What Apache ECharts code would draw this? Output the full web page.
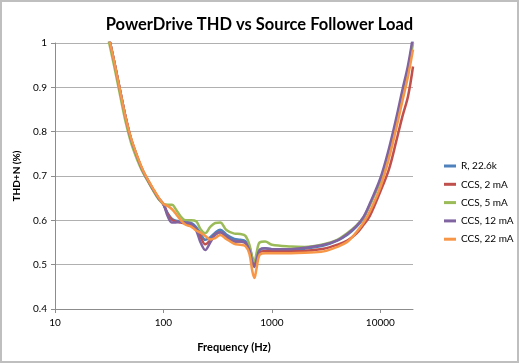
<!DOCTYPE html>
<html>
<head>
<meta charset="utf-8">
<script src="https://cdn.jsdelivr.net/npm/echarts@6/dist/echarts.min.js"></script>
<style>
html,body{margin:0;padding:0;background:#fff;}
#c{width:519px;height:363px;}
</style>
</head>
<body>
<div id="c"></div>
<script>
var title = 'PowerDrive THD vs Source Follower Load';
var xName = 'Frequency (Hz)';
var yName = 'THD+N (%)';
var xTicks = [10, 100, 1000, 10000];
var seriesNames = ['R, 22.6k', 'CCS, 2 mA', 'CCS, 5 mA', 'CCS, 12 mA', 'CCS, 22 mA'];
var freq = [20, 25, 30, 35, 40, 45, 50, 55, 60, 65, 70, 80, 90, 100, 110, 120, 130, 145, 160, 180, 200, 220, 243, 270, 300, 334, 380, 450, 511, 570, 620, 660, 690, 720, 770, 866, 1000, 1500, 2000, 3000, 4000, 5000, 6000, 7000, 8000, 10000, 12000, 14000, 16000, 18000, 20000];
var r22k = [1.25, 1.13, 1.035, 0.96, 0.89, 0.83, 0.785, 0.755, 0.73, 0.71, 0.695, 0.67, 0.65, 0.636, 0.615, 0.603, 0.599, 0.597, 0.596, 0.594, 0.585, 0.57, 0.556, 0.562, 0.572, 0.579, 0.568, 0.558, 0.556, 0.553, 0.54, 0.515, 0.503, 0.515, 0.533, 0.537, 0.535, 0.534, 0.536, 0.543, 0.554, 0.568, 0.585, 0.605, 0.635, 0.69, 0.755, 0.823, 0.887, 0.94, 1.01];
var ccs2 = [1.25, 1.13, 1.035, 0.96, 0.89, 0.83, 0.785, 0.755, 0.73, 0.71, 0.695, 0.67, 0.65, 0.636, 0.613, 0.601, 0.597, 0.595, 0.593, 0.59, 0.58, 0.562, 0.546, 0.555, 0.568, 0.573, 0.563, 0.553, 0.552, 0.549, 0.535, 0.512, 0.503, 0.513, 0.528, 0.531, 0.53, 0.53, 0.531, 0.536, 0.545, 0.555, 0.57, 0.59, 0.61, 0.665, 0.715, 0.778, 0.835, 0.88, 0.947];
var ccs5 = [1.24, 1.12, 1.025, 0.95, 0.88, 0.82, 0.777, 0.748, 0.725, 0.707, 0.693, 0.668, 0.648, 0.637, 0.635, 0.635, 0.625, 0.608, 0.6, 0.6, 0.598, 0.58, 0.571, 0.585, 0.594, 0.595, 0.578, 0.57, 0.569, 0.565, 0.545, 0.515, 0.507, 0.525, 0.55, 0.552, 0.545, 0.541, 0.54, 0.546, 0.556, 0.572, 0.588, 0.607, 0.635, 0.69, 0.753, 0.82, 0.883, 0.935, 1.0];
var ccs12 = [1.25, 1.13, 1.035, 0.96, 0.89, 0.83, 0.785, 0.755, 0.73, 0.71, 0.695, 0.67, 0.65, 0.636, 0.608, 0.595, 0.595, 0.597, 0.595, 0.592, 0.578, 0.55, 0.533, 0.55, 0.567, 0.573, 0.563, 0.553, 0.552, 0.549, 0.533, 0.505, 0.495, 0.51, 0.533, 0.537, 0.535, 0.535, 0.538, 0.545, 0.555, 0.57, 0.587, 0.608, 0.638, 0.695, 0.762, 0.83, 0.895, 0.95, 1.015];
var ccs22 = [1.25, 1.13, 1.035, 0.96, 0.89, 0.83, 0.787, 0.757, 0.732, 0.712, 0.697, 0.672, 0.652, 0.637, 0.632, 0.625, 0.615, 0.6, 0.59, 0.586, 0.577, 0.572, 0.565, 0.557, 0.56, 0.567, 0.558, 0.547, 0.545, 0.542, 0.525, 0.485, 0.47, 0.49, 0.522, 0.526, 0.526, 0.526, 0.527, 0.53, 0.54, 0.552, 0.573, 0.595, 0.62, 0.675, 0.74, 0.807, 0.87, 0.925, 0.985];
var seriesValues = [r22k, ccs2, ccs5, ccs12, ccs22];
var colors = ['#4F81BD', '#C0504D', '#9BBB59', '#8064A2', '#F79646'];

var FONT = 'Lato, "Liberation Sans", sans-serif';
var chart = echarts.init(document.getElementById('c'), null, {renderer: 'canvas'});
var series = seriesNames.map(function (name, i) {
  return {
    name: name,
    type: 'line',
    smooth: 0.35,
    symbol: 'none',
    showSymbol: false,
    clip: true,
    lineStyle: {width: 2.5, color: colors[i]},
    itemStyle: {color: colors[i]},
    data: freq.map(function (f, j) { return [f, seriesValues[i][j]]; })
  };
});
chart.setOption({
  animation: false,
  backgroundColor: '#fff',
  title: {
    text: title, left: 'center', top: 11,
    textStyle: {fontFamily: FONT, fontSize: 16.5, fontWeight: 'bold', color: '#000'}
  },
  graphic: [{
    type: 'rect', silent: true,
    shape: {x: 1, y: 1, width: 517, height: 361},
    style: {fill: 'none', stroke: '#bfbfbf', lineWidth: 2}
  }],
  legend: {
    orient: 'vertical', left: 439, top: 155,
    itemWidth: 12, itemHeight: 3, itemGap: 6.3, icon: 'rect',
    textStyle: {fontFamily: FONT, fontSize: 10, color: '#000', lineHeight: 12},
    data: seriesNames
  },
  grid: {left: 55, top: 43, right: 106, bottom: 54, containLabel: false},
  xAxis: {
    type: 'log', logBase: 10, min: 10, max: 20000,
    name: xName, nameLocation: 'middle', nameGap: 33,
    nameTextStyle: {fontFamily: FONT, fontSize: 11, fontWeight: 'bold', color: '#000'},
    axisLine: {show: true, lineStyle: {color: '#8c8c8c', width: 1}},
    axisTick: {show: true, length: 4, customValues: xTicks, lineStyle: {color: '#8c8c8c'}},
    minorTick: {show: false},
    axisLabel: {
      customValues: xTicks, fontFamily: FONT, fontSize: 10, color: '#000', margin: 9,
      formatter: function (v) { return String(Math.round(v)); }
    },
    splitLine: {show: false}
  },
  yAxis: {
    type: 'value', min: 0.4, max: 1, interval: 0.1,
    name: yName, nameLocation: 'middle', nameGap: 30, nameRotate: 90,
    nameTextStyle: {fontFamily: FONT, fontSize: 10, fontWeight: 'bold', color: '#000'},
    axisLine: {show: true, lineStyle: {color: '#8c8c8c', width: 1}},
    axisTick: {show: true, length: 4, inside: false, lineStyle: {color: '#8c8c8c'}},
    axisLabel: {fontFamily: FONT, fontSize: 10, color: '#000', margin: 8},
    splitLine: {show: true, lineStyle: {color: '#b0b0b0', width: 1}}
  },
  series: series
});
</script>
</body>
</html>
